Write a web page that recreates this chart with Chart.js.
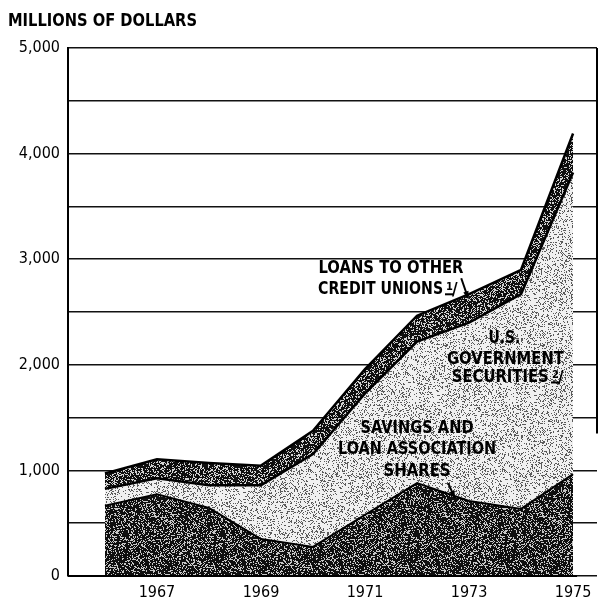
<!DOCTYPE html>
<html>
<head>
<meta charset="utf-8">
<script src="https://cdn.jsdelivr.net/npm/chart.js@4.4.0/dist/chart.umd.min.js"></script>
<style>
  html, body { margin: 0; padding: 0; background: #fff; }
  #wrap { position: relative; width: 602px; height: 604px; }
</style>
</head>
<body>
<div id="wrap"><canvas id="chart" width="602" height="604"></canvas></div>
<script>
    // values, millions of dollars (stacked components)
    const years = [1966, 1967, 1968, 1969, 1970, 1971, 1972, 1973, 1974, 1975];
    const savingsShares = [665, 775, 645, 350, 275, 580, 880, 710, 635, 965];
    const govSecurities = [160, 150, 215, 510, 880, 1150, 1340, 1690, 2035, 2855];
    const loansToCreditUnions = [145, 180, 210, 185, 220, 230, 245, 270, 230, 370];
    const yearTicks = [1967, 1969, 1971, 1973, 1975];
    const yMax = 5000;

    const NARROW = '"Liberation Sans Narrow", "DejaVu Sans Condensed", "Roboto Condensed", sans-serif';

    function hash(x, y, seed) {
        let n = Math.imul(x, 374761393) + Math.imul(y, 668265263) + Math.imul(seed, 982451653);
        n = Math.imul(n ^ (n >>> 13), 1274126177);
        n = n ^ (n >>> 16);
        return (n >>> 0) / 4294967296;
    }

    function stipple(density, seed, dark, light) {
        const size = 97;
        const c = document.createElement('canvas');
        c.width = size;
        c.height = size;
        const ctx = c.getContext('2d');
        const img = ctx.createImageData(size, size);
        for (let y = 0; y < size; y++) {
            for (let x = 0; x < size; x++) {
                const v = hash(x, y, seed) < density ? dark : light;
                const i = (y * size + x) * 4;
                img.data[i] = v;
                img.data[i + 1] = v;
                img.data[i + 2] = v;
                img.data[i + 3] = 255;
            }
        }
        ctx.putImageData(img, 0, 0);
        return document.getElementById('chart').getContext('2d').createPattern(c, 'repeat');
    }

    function toPoints(values) {
        return years.map((yr, i) => ({ x: yr, y: values[i] }));
    }

    // text placed by data coordinates (x = year, y = millions), target width in px
    const notes = [
        { text: 'LOANS TO OTHER', x: 1971.5, y: 2910, w: 145 },
        { text: 'CREDIT UNIONS', x: 1971.3, y: 2715, w: 125, fn: '1' },
        { text: 'U.S.', x: 1973.68, y: 2255, w: 32 },
        { text: 'GOVERNMENT', x: 1973.7, y: 2055, w: 117 },
        { text: 'SECURITIES', x: 1973.6, y: 1880, w: 97, fn: '2' },
        { text: 'SAVINGS AND', x: 1972.0, y: 1400, w: 113 },
        { text: 'LOAN ASSOCIATION', x: 1972.0, y: 1195, w: 158 },
        { text: 'SHARES', x: 1972.0, y: 995, w: 67 }
    ];
    const arrows = [
        { from: [1972.85, 2820], to: [1972.98, 2635] },
        { from: [1972.6, 880], to: [1972.72, 745] }
    ];

    function fitText(ctx, text, cx, cy, width) {
        const natural = ctx.measureText(text).width;
        ctx.save();
        ctx.translate(cx, cy);
        ctx.scale(width / natural, 1);
        ctx.textAlign = 'center';
        ctx.textBaseline = 'middle';
        ctx.fillText(text, 0, 0);
        ctx.restore();
    }

    const decorPlugin = {
        id: 'decor',
        afterDatasetsDraw(chart) {
            const { ctx, scales: { x, y }, chartArea } = chart;
            ctx.save();
            ctx.fillStyle = '#000';
            ctx.strokeStyle = '#000';

            // title
            ctx.font = 'bold 18px ' + NARROW;
            ctx.textBaseline = 'middle';
            ctx.textAlign = 'left';
            const tw = ctx.measureText('MILLIONS OF DOLLARS').width;
            ctx.save();
            ctx.translate(8, 21);
            ctx.scale(189 / tw, 1);
            ctx.fillText('MILLIONS OF DOLLARS', 0, 0);
            ctx.restore();

            // right border, upper part only
            ctx.lineWidth = 2;
            ctx.beginPath();
            ctx.moveTo(chartArea.right, chartArea.top);
            ctx.lineTo(chartArea.right, y.getPixelForValue(1350));
            ctx.stroke();

            // bottom axis up to the end of the data
            ctx.beginPath();
            ctx.moveTo(chartArea.left, chartArea.bottom);
            ctx.lineTo(x.getPixelForValue(years[years.length - 1]) + 4, chartArea.bottom);
            ctx.stroke();

            // annotations
            notes.forEach(n => {
                const cx = x.getPixelForValue(n.x);
                const cy = y.getPixelForValue(n.y);
                ctx.font = 'bold 18px ' + NARROW;
                fitText(ctx, n.text, cx, cy, n.w);
                if (n.fn) {
                    const fx = Math.round(cx + n.w / 2 + 2);
                    ctx.textAlign = 'left';
                    ctx.textBaseline = 'alphabetic';
                    ctx.font = 'bold 11px ' + NARROW;
                    ctx.fillText(n.fn, fx + 1, cy + 1);
                    ctx.fillRect(fx, cy + 4, 8, 2);
                    ctx.font = 'bold 17px ' + NARROW;
                    ctx.fillText('/', fx + 7, cy + 6);
                }
            });

            ctx.lineWidth = 2;
            arrows.forEach(a => {
                const x1 = x.getPixelForValue(a.from[0]), y1 = y.getPixelForValue(a.from[1]);
                const x2 = x.getPixelForValue(a.to[0]), y2 = y.getPixelForValue(a.to[1]);
                ctx.beginPath();
                ctx.moveTo(x1, y1);
                ctx.lineTo(x2, y2);
                ctx.stroke();
                const ang = Math.atan2(y2 - y1, x2 - x1);
                ctx.beginPath();
                ctx.moveTo(x2 + 2 * Math.cos(ang), y2 + 2 * Math.sin(ang));
                ctx.lineTo(x2 - 7 * Math.cos(ang - 0.4), y2 - 7 * Math.sin(ang - 0.4));
                ctx.lineTo(x2 - 7 * Math.cos(ang + 0.4), y2 - 7 * Math.sin(ang + 0.4));
                ctx.closePath();
                ctx.fill();
            });
            ctx.restore();
        }
    };

    new Chart(document.getElementById('chart'), {
        type: 'line',
        data: {
            datasets: [{
                label: 'Savings and loan association shares',
                data: toPoints(savingsShares),
                backgroundColor: stipple(0.72, 1, 15, 200),
                borderColor: '#000',
                borderWidth: 2,
                fill: 'origin'
            }, {
                label: 'U.S. Government securities',
                data: toPoints(govSecurities),
                backgroundColor: stipple(0.22, 2, 90, 240),
                borderColor: '#000',
                borderWidth: 2.5,
                fill: '-1'
            }, {
                label: 'Loans to other credit unions',
                data: toPoints(loansToCreditUnions),
                backgroundColor: stipple(0.68, 3, 15, 210),
                borderColor: '#000',
                borderWidth: 2.5,
                fill: '-1'
            }]
        },
        options: {
            responsive: false,
            animation: false,
            events: [],
            elements: { point: { radius: 0 }, line: { tension: 0 } },
            layout: { padding: { top: 48, left: 8, right: 5, bottom: 0 } },
            plugins: { legend: { display: false }, tooltip: { enabled: false } },
            scales: {
                x: {
                    type: 'linear',
                    min: 1965.29,
                    max: 1975.46,
                    afterBuildTicks: s => { s.ticks = yearTicks.map(v => ({ value: v })); },
                    afterFit: s => { s.height = 28; },
                    grid: { display: false, drawTicks: false },
                    border: { display: false },
                    ticks: {
                        color: '#000',
                        padding: 7,
                        maxRotation: 0,
                        font: { family: NARROW, size: 16 },
                        callback: v => String(v)
                    }
                },
                y: {
                    stacked: true,
                    min: 0,
                    max: yMax,
                    afterFit: s => { s.width = 60; },
                    grid: { color: '#111', lineWidth: 1.6, drawTicks: false },
                    border: { color: '#000', width: 2 },
                    ticks: {
                        stepSize: 500,
                        color: '#000',
                        padding: 8,
                        font: { family: NARROW, size: 16 },
                        callback: v => v % 1000 === 0 ? (v === 0 ? '0' : v.toLocaleString('en-US')) : ''
                    }
                }
            }
        },
        plugins: [decorPlugin]
    });
</script>
</body>
</html>
